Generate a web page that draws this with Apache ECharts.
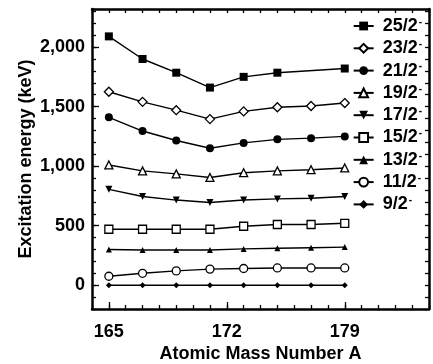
<!DOCTYPE html>
<html>
<head>
<meta charset="utf-8">
<script src="https://cdn.jsdelivr.net/npm/echarts@6/dist/echarts.min.js"></script>
<style>
  html, body { margin: 0; padding: 0; background: #fff; }
  #chart { width: 433px; height: 364px; }
</style>
</head>
<body>
<div id="chart"></div>
<script>
var masses = [165, 167, 169, 171, 173, 175, 177, 179];
var xLabels = [165, 172, 179];
var yLabels = [0, 500, 1000, 1500, 2000];
var levels = ['25/2⁻', '23/2⁻', '21/2⁻', '19/2⁻', '17/2⁻', '15/2⁻', '13/2⁻', '11/2⁻', '9/2⁻'];
var e25 = [2090, 1900, 1785, 1660, 1750, 1785, null, 1820];
var e23 = [1625, 1540, 1470, 1395, 1460, 1495, 1505, 1530];
var e21 = [1410, 1295, 1215, 1150, 1195, 1225, 1235, 1250];
var e19 = [1010, 960, 935, 905, 945, 960, 970, 985];
var e17 = [805, 745, 715, 695, 715, 725, 730, 745];
var e15 = [470, 470, 470, 470, 495, 510, 510, 520];
var e13 = [300, 295, 295, 295, 305, 310, 315, 320];
var e11 = [75, 100, 120, 135, 140, 145, 145, 145];
var e9 = [0, 0, 0, 0, 0, 0, 0, 0];

var font = 'Liberation Sans, Arial, sans-serif';

// marker per level: symbol, size, filled, rotate
var marks = [
    ['rect', 8, true, 0],
    ['diamond', 9, false, 0],
    ['circle', 8, true, 0],
    ['triangle', 8, false, 0],
    ['triangle', 7, true, 180],
    ['rect', 8, false, 0],
    ['triangle', 6, true, 0],
    ['circle', 8, false, 0],
    ['diamond', 6, true, 0]
];
var values = [e25, e23, e21, e19, e17, e15, e13, e11, e9];

var series = levels.map(function (name, i) {
    var m = marks[i];
    return {
        name: name,
        type: 'line',
        xAxisIndex: 0,
        yAxisIndex: 0,
        connectNulls: true,
        symbol: m[0],
        symbolSize: m[1],
        symbolRotate: m[3],
        lineStyle: { color: '#000', width: 1.4 },
        itemStyle: {
            color: m[2] ? '#000' : '#fff',
            borderColor: '#000',
            borderWidth: m[2] ? 0 : 1.3
        },
        emphasis: { disabled: true },
        data: masses.map(function (x, j) { return [x, values[i][j]]; })
    };
});

var frame = { onZero: false, lineStyle: { color: '#000', width: 2.5 } };
var tickStyle = { color: '#000', width: 1.3 };
var yMin = -200, yMax = 2320;

var myChart = echarts.init(document.getElementById('chart'));
var option = {
    animation: false,
    backgroundColor: '#fff',
    grid: { left: 92, right: 4, top: 9, bottom: 55, outerBoundsMode: 'none', containLabel: false },
    legend: {
        orient: 'vertical',
        right: 6,
        top: 12,
        itemWidth: 20,
        itemHeight: 11,
        itemGap: 4.3,
        data: levels,
        lineStyle: { color: '#000', width: 2 },
        formatter: function (name) {
            return '{a|' + name.replace('⁻', '') + '}{s|-}';
        },
        textStyle: {
            fontFamily: font, fontWeight: 'bold', fontSize: 18,
            color: '#000', lineHeight: 18, padding: [0, 0, 0, 4],
            rich: {
                a: { fontFamily: font, fontWeight: 'bold', fontSize: 18, color: '#000', lineHeight: 18 },
                s: { fontFamily: font, fontWeight: 'bold', fontSize: 10, color: '#000', lineHeight: 18, verticalAlign: 'top', padding: [0, 0, 6, 1] }
            }
        }
    },
    xAxis: [
        {
            type: 'value', position: 'bottom', min: 164, max: 184, interval: 1,
            name: 'Atomic Mass Number A', nameLocation: 'middle', nameGap: 36, nameMoveOverlap: false,
            nameTextStyle: { fontFamily: font, fontWeight: 'bold', fontSize: 18, color: '#000' },
            axisLine: frame,
            axisTick: { inside: true, length: 4, lineStyle: tickStyle },
            axisLabel: {
                customValues: xLabels, margin: 14,
                fontFamily: font, fontWeight: 'bold', fontSize: 18, color: '#000'
            },
            splitLine: { show: false }
        },
        {
            type: 'value', position: 'bottom', min: 164, max: 184,
            axisLine: { show: false, onZero: false },
            axisTick: { inside: true, length: 7, customValues: xLabels, lineStyle: tickStyle },
            axisLabel: { show: false },
            splitLine: { show: false }
        },
        {
            type: 'value', position: 'top', min: 164, max: 184, interval: 1,
            axisLine: frame,
            axisTick: { inside: true, length: 4, lineStyle: tickStyle },
            axisLabel: { show: false },
            splitLine: { show: false }
        }
    ],
    yAxis: [
        {
            type: 'value', position: 'left', min: yMin, max: yMax, interval: 100,
            name: 'Excitation energy (keV)', nameLocation: 'middle', nameGap: 57, nameMoveOverlap: false,
            nameTextStyle: { fontFamily: font, fontWeight: 'bold', fontSize: 18, color: '#000' },
            axisLine: frame,
            axisTick: { inside: true, length: 4, lineStyle: tickStyle },
            axisLabel: {
                customValues: yLabels, margin: 7,
                fontFamily: font, fontWeight: 'bold', fontSize: 18, color: '#000',
                formatter: function (v) { return v.toLocaleString('en-US'); }
            },
            splitLine: { show: false }
        },
        {
            type: 'value', position: 'left', min: yMin, max: yMax,
            axisLine: { show: false, onZero: false },
            axisTick: { inside: true, length: 7, customValues: yLabels, lineStyle: tickStyle },
            axisLabel: { show: false },
            splitLine: { show: false }
        },
        {
            type: 'value', position: 'right', min: yMin, max: yMax, interval: 100,
            axisLine: frame,
            axisTick: { inside: true, length: 4, lineStyle: tickStyle },
            axisLabel: { show: false },
            splitLine: { show: false }
        }
    ],
    series: series
};
myChart.setOption(option);
</script>
</body>
</html>
